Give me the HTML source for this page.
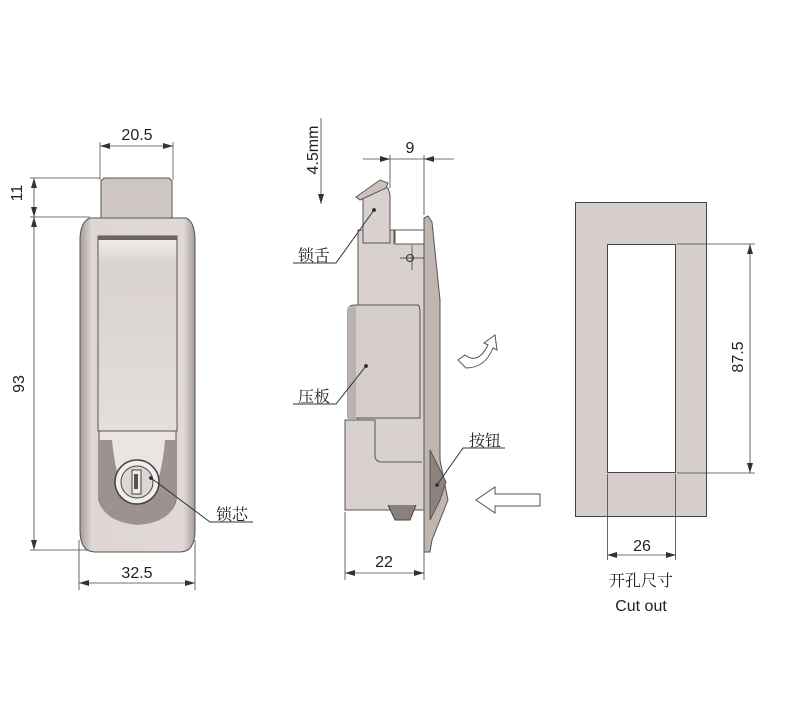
<!DOCTYPE html>
<html><head><meta charset="utf-8"><style>
html,body{margin:0;padding:0;background:#fff;}
svg{display:block;}
text{font-family:"Liberation Sans","Noto Sans CJK SC",sans-serif;fill:#222;}
.cj{font-family:"Noto Serif CJK SC","Noto Sans CJK SC",serif;}
</style></head><body>
<svg width="800" height="713" viewBox="0 0 800 713" xmlns="http://www.w3.org/2000/svg">
<defs>
<marker id="a" viewBox="0 0 10 6" refX="10" refY="3" markerWidth="10" markerHeight="6" orient="auto-start-reverse" markerUnits="userSpaceOnUse"><path d="M0,0L10,3L0,6z" fill="#333"/></marker>
<linearGradient id="g1" x1="0" y1="0" x2="0" y2="1"><stop offset="0" stop-color="#f3efee"/><stop offset="0.15" stop-color="#d9d2cf"/><stop offset="1" stop-color="#e4dedc"/></linearGradient>
<linearGradient id="g2" x1="0" y1="0" x2="1" y2="0"><stop offset="0" stop-color="#a79c98"/><stop offset="0.1" stop-color="#ddd6d3"/><stop offset="0.9" stop-color="#e0d9d6"/><stop offset="1" stop-color="#a79c98"/></linearGradient>
</defs>
<g stroke="#444" stroke-width="1" fill="none">
<!-- LEFT VIEW -->
<path d="M101,181 L104,178 L169,178 L172,181 L172,218 L101,218 Z" fill="#cfc7c3" stroke="#555"/>
<path d="M90,218 L186,218 Q195,222 195,240 L195,530 Q195,552 180,552 L95,552 Q80,552 80,530 L80,240 Q80,222 90,218 Z" fill="url(#g2)" stroke="#555"/>
<rect x="98" y="236" width="79" height="195" fill="url(#g1)" stroke="#555"/>
<rect x="98" y="236" width="79" height="4" fill="#6d6360" stroke="none"/>
<path d="M99,431 L176,431 L176,500 Q172,520 138,524 Q104,520 99,500 Z" fill="#eae5e3" stroke="#555"/>
<path d="M99,440 L112,440 Q118,500 138,502 Q160,500 165,440 L176,440 L176,500 Q172,522 138,525 Q104,522 99,500 Z" fill="#9e9290" stroke="none"/>
<circle cx="137" cy="482" r="22" fill="#f2eeed" stroke="#444" stroke-width="1.5"/>
<circle cx="137" cy="482" r="16" fill="#ddd6d4"/>
<rect x="132" y="470" width="9" height="24" fill="#f0ecea"/>
<rect x="134" y="474" width="4" height="15" fill="#5a514f" stroke="none"/>
<circle cx="151" cy="478" r="1.5" fill="#222"/>
<path d="M151,478 L210,522 L253,522" stroke="#333"/>
<!-- left dims -->
<line x1="100" y1="142" x2="100" y2="180" stroke="#555" stroke-width="0.8"/>
<line x1="173" y1="142" x2="173" y2="180" stroke="#555" stroke-width="0.8"/>
<line x1="100" y1="146" x2="173" y2="146" marker-start="url(#a)" marker-end="url(#a)" stroke-width="0.8"/>
<line x1="30" y1="178" x2="100" y2="178" stroke-width="0.8"/>
<line x1="30" y1="217" x2="90" y2="217" stroke-width="0.8"/>
<line x1="30" y1="550" x2="88" y2="550" stroke-width="0.8"/>
<line x1="34" y1="178" x2="34" y2="217" marker-start="url(#a)" marker-end="url(#a)" stroke-width="0.8"/>
<line x1="34" y1="217" x2="34" y2="550" marker-start="url(#a)" marker-end="url(#a)" stroke-width="0.8"/>
<line x1="79" y1="540" x2="79" y2="590" stroke-width="0.8"/>
<line x1="195" y1="540" x2="195" y2="590" stroke-width="0.8"/>
<line x1="79" y1="583" x2="195" y2="583" marker-start="url(#a)" marker-end="url(#a)" stroke-width="0.8"/>

<!-- MIDDLE VIEW -->
<path d="M424,218 L428,216 L432,222 L440,300 L440,460 L448,500 L432,540 L430,552 L424,552 Z" fill="#bfb5b1" stroke="#555"/>
<path d="M430,450 L446,482 L440,500 L430,520 Z" fill="#8d827e" stroke="#555"/>
<path d="M358,244 L358,230 L394,230 L394,244 L424,244 L424,510 L345,510 L345,420 L358,420 Z" fill="#d9d1ce" stroke="#555"/>
<path d="M395,243 L395,230 L424,230" stroke="#555"/>
<path d="M363,243 L363,195 L378,185 L388,188 L390,195 L390,243 Z" fill="#d9d1ce" stroke="#555"/>
<path d="M356,197 L380,180 L388,183 L386,188 L360,200 Z" fill="#cbc2be" stroke="#555"/>
<path d="M348,310 Q348,305 355,305 L418,305 Q420,306 420,312 L420,418 L348,418 Z" fill="#d6cecb" stroke="#555"/>
<rect x="348" y="306" width="8" height="112" fill="#bbb1ad" stroke="none"/>
<path d="M345,420 L375,420 L375,455 Q375,462 382,462 L422,462" stroke="#555"/>
<path d="M388,505 L395,520 L410,520 L416,505" fill="#8a807c" stroke="#444"/>
<circle cx="410" cy="258" r="3.5" fill="#ccc" stroke="#333"/>
<line x1="400" y1="258" x2="424" y2="258" stroke="#333" stroke-width="0.7"/>
<line x1="412" y1="245" x2="412" y2="270" stroke="#333" stroke-width="0.7"/>
<!-- leaders -->
<circle cx="374" cy="210" r="1.5" fill="#222"/>
<path d="M374,210 L336,263 L293,263" stroke="#333"/>
<circle cx="366" cy="366" r="1.5" fill="#222"/>
<path d="M366,366 L336,404 L293,404" stroke="#333"/>
<circle cx="437" cy="485" r="1.5" fill="#222"/>
<path d="M437,485 L463,448 L505,448" stroke="#333"/>
<!-- middle dims -->
<line x1="390" y1="155" x2="390" y2="188" stroke-width="0.8"/>
<line x1="424" y1="155" x2="424" y2="215" stroke-width="0.8"/>
<line x1="363" y1="159" x2="390" y2="159" marker-end="url(#a)" stroke-width="0.8"/>
<line x1="390" y1="159" x2="424" y2="159" stroke-width="0.8"/>
<line x1="454" y1="159" x2="424" y2="159" marker-end="url(#a)" stroke-width="0.8"/>
<line x1="321" y1="118" x2="321" y2="204" marker-end="url(#a)" stroke-width="0.8"/>
<line x1="345" y1="512" x2="345" y2="580" stroke-width="0.8"/>
<line x1="424" y1="552" x2="424" y2="580" stroke-width="0.8"/>
<line x1="345" y1="573" x2="424" y2="573" marker-start="url(#a)" marker-end="url(#a)" stroke-width="0.8"/>
<!-- rotate arrow -->
<path d="M458,360 L465,355 Q478,365 488,345 L484,343 L495,335 L497,350 L493,348 Q485,368 466,368 Z" fill="#fff" stroke="#555"/>
<!-- push arrow -->
<path d="M540,494 L495,494 L495,487 L476,500 L495,513 L495,506 L540,506 Z" fill="#fff" stroke="#555"/>

<!-- RIGHT VIEW -->
<rect x="575.5" y="202.5" width="131" height="314" fill="#d6cecb" stroke="#444"/>
<rect x="607.5" y="244.5" width="68" height="228" fill="#fff" stroke="#444"/>
<line x1="677" y1="244" x2="755" y2="244" stroke-width="0.8"/>
<line x1="677" y1="473" x2="755" y2="473" stroke-width="0.8"/>
<line x1="750" y1="244" x2="750" y2="473" marker-start="url(#a)" marker-end="url(#a)" stroke-width="0.8"/>
<line x1="607.5" y1="474" x2="607.5" y2="560" stroke-width="0.8"/>
<line x1="675.5" y1="474" x2="675.5" y2="560" stroke-width="0.8"/>
<line x1="607" y1="555" x2="676" y2="555" marker-start="url(#a)" marker-end="url(#a)" stroke-width="0.8"/>
</g>
<g font-size="16">
<text x="137" y="140" text-anchor="middle">20.5</text>
<text x="27" y="198" text-anchor="middle" transform="rotate(-90 22 198)">11</text>
<text x="24" y="384" text-anchor="middle" transform="rotate(-90 24 384)">93</text>
<text x="137" y="578" text-anchor="middle">32.5</text>
<text x="232" y="520" text-anchor="middle" class="cj">锁芯</text>
<text x="410" y="153" text-anchor="middle">9</text>
<text x="318" y="150" text-anchor="middle" transform="rotate(-90 318 150)">4.5mm</text>
<text x="314" y="261" text-anchor="middle" class="cj">锁舌</text>
<text x="314" y="402" text-anchor="middle" class="cj">压板</text>
<text x="485" y="446" text-anchor="middle" class="cj">按钮</text>
<text x="384" y="567" text-anchor="middle">22</text>
<text x="743" y="357" text-anchor="middle" transform="rotate(-90 743 357)">87.5</text>
<text x="642" y="551" text-anchor="middle">26</text>
<text x="641" y="586" text-anchor="middle" class="cj">开孔尺寸</text>
<text x="641" y="611" text-anchor="middle">Cut out</text>
</g>
</svg>
</body></html>
